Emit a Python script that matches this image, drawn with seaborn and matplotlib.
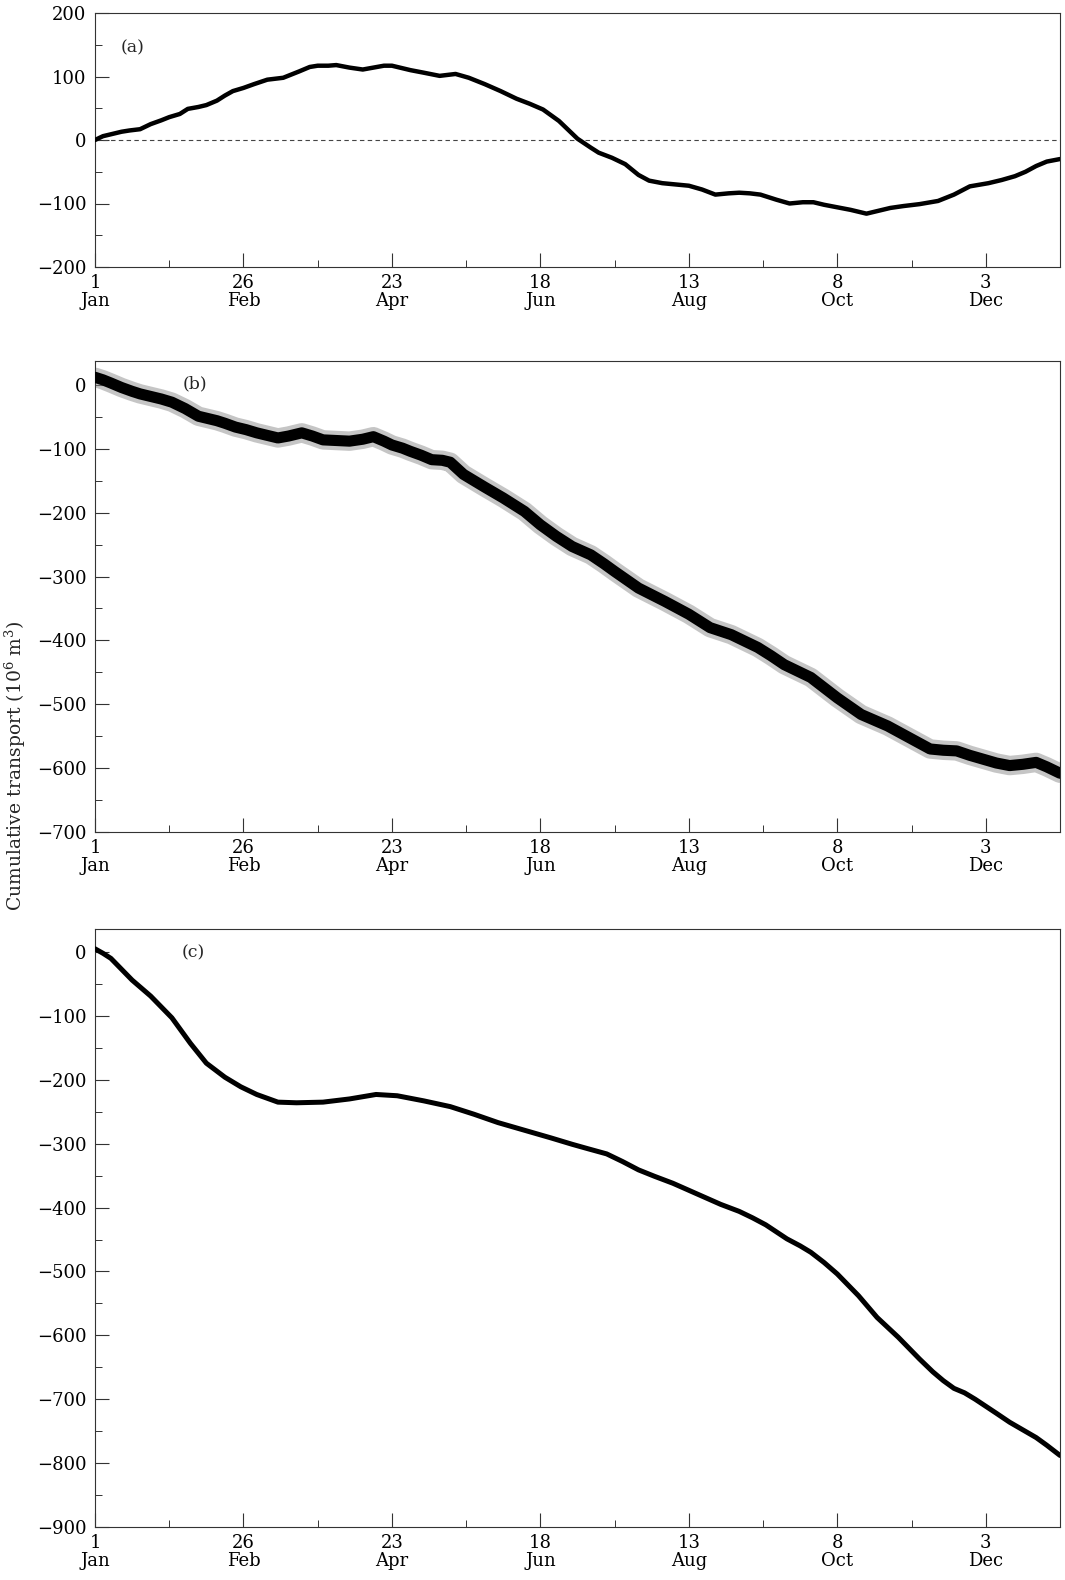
import numpy as np
import pandas as pd
import matplotlib
matplotlib.use("Agg")
import matplotlib.pyplot as plt
import seaborn as sns
from matplotlib.ticker import FixedLocator, MultipleLocator

# ---------------- data ----------------
tick_days = [1, 57, 113, 169, 225, 281, 337]
tick_dates = ["1", "26", "23", "18", "13", "8", "3"]
tick_months = ["Jan", "Feb", "Apr", "Jun", "Aug", "Oct", "Dec"]
minor_days = [29, 85, 141, 197, 253, 309]

days_a = [1, 4, 7, 11, 14, 18, 22, 26, 29, 33, 36, 40, 43, 47, 50, 53, 57, 61, 66, 72,
          78, 82, 85, 89, 92, 97, 102, 106, 110, 113, 116, 120, 125, 131, 137, 142, 148,
          154, 160, 165, 170, 176, 180, 183, 188, 191, 196, 201, 206, 210, 215, 220, 225,
          230, 235, 240, 244, 248, 252, 258, 263, 268, 272, 276, 281, 286, 292, 296, 301,
          306, 312, 319, 325, 331, 338, 343, 348, 352, 356, 360, 365]
transport_a = [0, 6, 9, 13, 15, 17, 25, 31, 36, 41, 49, 52, 55, 62, 70, 77, 82, 88, 95, 98,
               108, 115, 117, 117, 118, 114, 111, 114, 117, 117, 114, 110, 106, 101, 104, 98, 88,
               77, 65, 57, 48, 30, 14, 2, -12, -20, -28, -38, -55, -64, -68, -70, -72,
               -78, -86, -84, -83, -84, -86, -94, -100, -98, -98, -102, -106, -110, -116, -112, -107,
               -104, -101, -96, -86, -73, -68, -63, -57, -50, -41, -34, -30]

days_b = [1, 4, 7, 11, 15, 18, 22, 26, 30, 35, 40, 44, 47, 50, 54, 58, 62, 66, 70, 74,
          79, 83, 87, 92, 97, 102, 106, 110, 113, 117, 120, 124, 128, 132, 135, 140, 144,
          148, 155, 163, 169, 175, 181, 188, 193, 197, 206, 216, 225, 233, 241, 251, 256,
          261, 271, 281, 290, 300, 308, 316, 321, 326, 331, 336, 341, 346, 351, 356, 360, 365]
transport_b = [12, 8, 3, -4, -10, -14, -18, -22, -27, -37, -49, -53, -56, -60, -66, -70, -75, -79, -83, -80,
               -75, -80, -86, -87, -88, -85, -81, -88, -94, -99, -104, -110, -117, -118, -121, -140, -150,
               -160, -177, -198, -219, -237, -253, -266, -280, -292, -318, -339, -359, -380, -391, -411, -424,
               -438, -458, -490, -516, -534, -552, -570, -572, -573, -580, -586, -592, -596, -594, -591, -598, -608]

days_c = [1, 4, 7, 11, 15, 22, 30, 37, 43, 50, 56, 62, 70, 77, 87, 97, 107, 115, 125, 135,
          144, 153, 163, 173, 181, 187, 194, 200, 206, 212, 219, 225, 231, 237, 244, 249, 254,
          258, 262, 267, 271, 276, 281, 285, 289, 296, 304, 312, 317, 321, 325, 329, 333, 337,
          341, 346, 351, 356, 360, 365]
transport_c = [5, -2, -10, -27, -44, -69, -103, -143, -174, -196, -211, -223, -235, -236, -235, -230, -223, -225, -233, -242,
               -254, -267, -279, -291, -301, -308, -316, -328, -341, -351, -362, -373, -384, -395, -406, -416, -427,
               -438, -449, -460, -470, -486, -504, -521, -538, -572, -603, -637, -657, -671, -683, -690, -700, -711,
               -722, -736, -748, -760, -772, -788]

panel_labels = ["(a)", "(b)", "(c)"]
ylims = [(-200, 200), (-700, 37.5), (-900, 36)]
ylabel = "Cumulative transport (10$^6$ m$^3$)"

# ---------------- style ----------------
sns.set_theme(style="ticks")
plt.rcParams['font.family'] = ['DejaVu Serif']
plt.rcParams['mathtext.fontset'] = 'dejavuserif'

W, H = 1065, 1580
fig = plt.figure(figsize=(W / 100, H / 100), dpi=100)

def frac_box(left, top, right, bottom):
    return [left / W, 1 - bottom / H, (right - left) / W, (bottom - top) / H]

ax_a = fig.add_axes(frac_box(95, 13, 1060, 267))
ax_b = fig.add_axes(frac_box(95, 361, 1060, 832))
ax_c = fig.add_axes(frac_box(95, 929, 1060, 1527))
axes = [ax_a, ax_b, ax_c]

df_a = pd.DataFrame({"day": days_a, "transport": transport_a})
df_b = pd.DataFrame({"day": days_b, "transport": transport_b})
df_c = pd.DataFrame({"day": days_c, "transport": transport_c})

# panel (a)
ax_a.axhline(0, color="#444444", lw=0.8, ls=(0, (4, 3)), zorder=1)
sns.lineplot(data=df_a, x="day", y="transport", ax=ax_a, color="black", lw=3.2, zorder=3)

# panel (b): tidal band underlay + core
sns.lineplot(data=df_b, x="day", y="transport", ax=ax_b, color="#8c8c8c", lw=14, alpha=0.5, zorder=2)
sns.lineplot(data=df_b, x="day", y="transport", ax=ax_b, color="black", lw=8, zorder=3)

# panel (c)
sns.lineplot(data=df_c, x="day", y="transport", ax=ax_c, color="black", lw=3.6, zorder=3)

label_pos = [(0.027, 0.862), (0.091, 0.951), (0.090, 0.960)]
for ax, lab, yl, (lx, ly) in zip(axes, panel_labels, ylims, label_pos):
    ax.set_xlim(1, 365)
    ax.set_ylim(*yl)
    ax.set_xlabel("")
    ax.set_ylabel("")
    ax.set_xticks(tick_days)
    ax.set_xticklabels([f"{d}\n{m}" for d, m in zip(tick_dates, tick_months)])
    for t in ax.get_xticklabels():
        t.set_linespacing(1.0)
    ax.xaxis.set_minor_locator(FixedLocator(minor_days))
    ax.yaxis.set_major_locator(MultipleLocator(100))
    ax.yaxis.set_minor_locator(MultipleLocator(50))
    ax.tick_params(axis="both", which="major", direction="in", length=10, width=0.8,
                   color="#333333", labelsize=13, labelcolor="black")
    ax.tick_params(axis="both", which="minor", direction="in", length=5, width=0.7,
                   color="#333333")
    ax.tick_params(axis="x", which="major", pad=5)
    ax.tick_params(axis="y", which="major", pad=6)
    for s in ax.spines.values():
        s.set_visible(True)
        s.set_color("#333333")
        s.set_linewidth(0.8)
    ax.text(lx, ly, lab, transform=ax.transAxes, fontsize=12.5, ha="left", va="center")
    ax.grid(False)

fig.text(15 / W, 1 - 766 / H, ylabel, rotation=90, ha="center", va="center", fontsize=13.5)

fig.savefig("out.png", dpi=100)
